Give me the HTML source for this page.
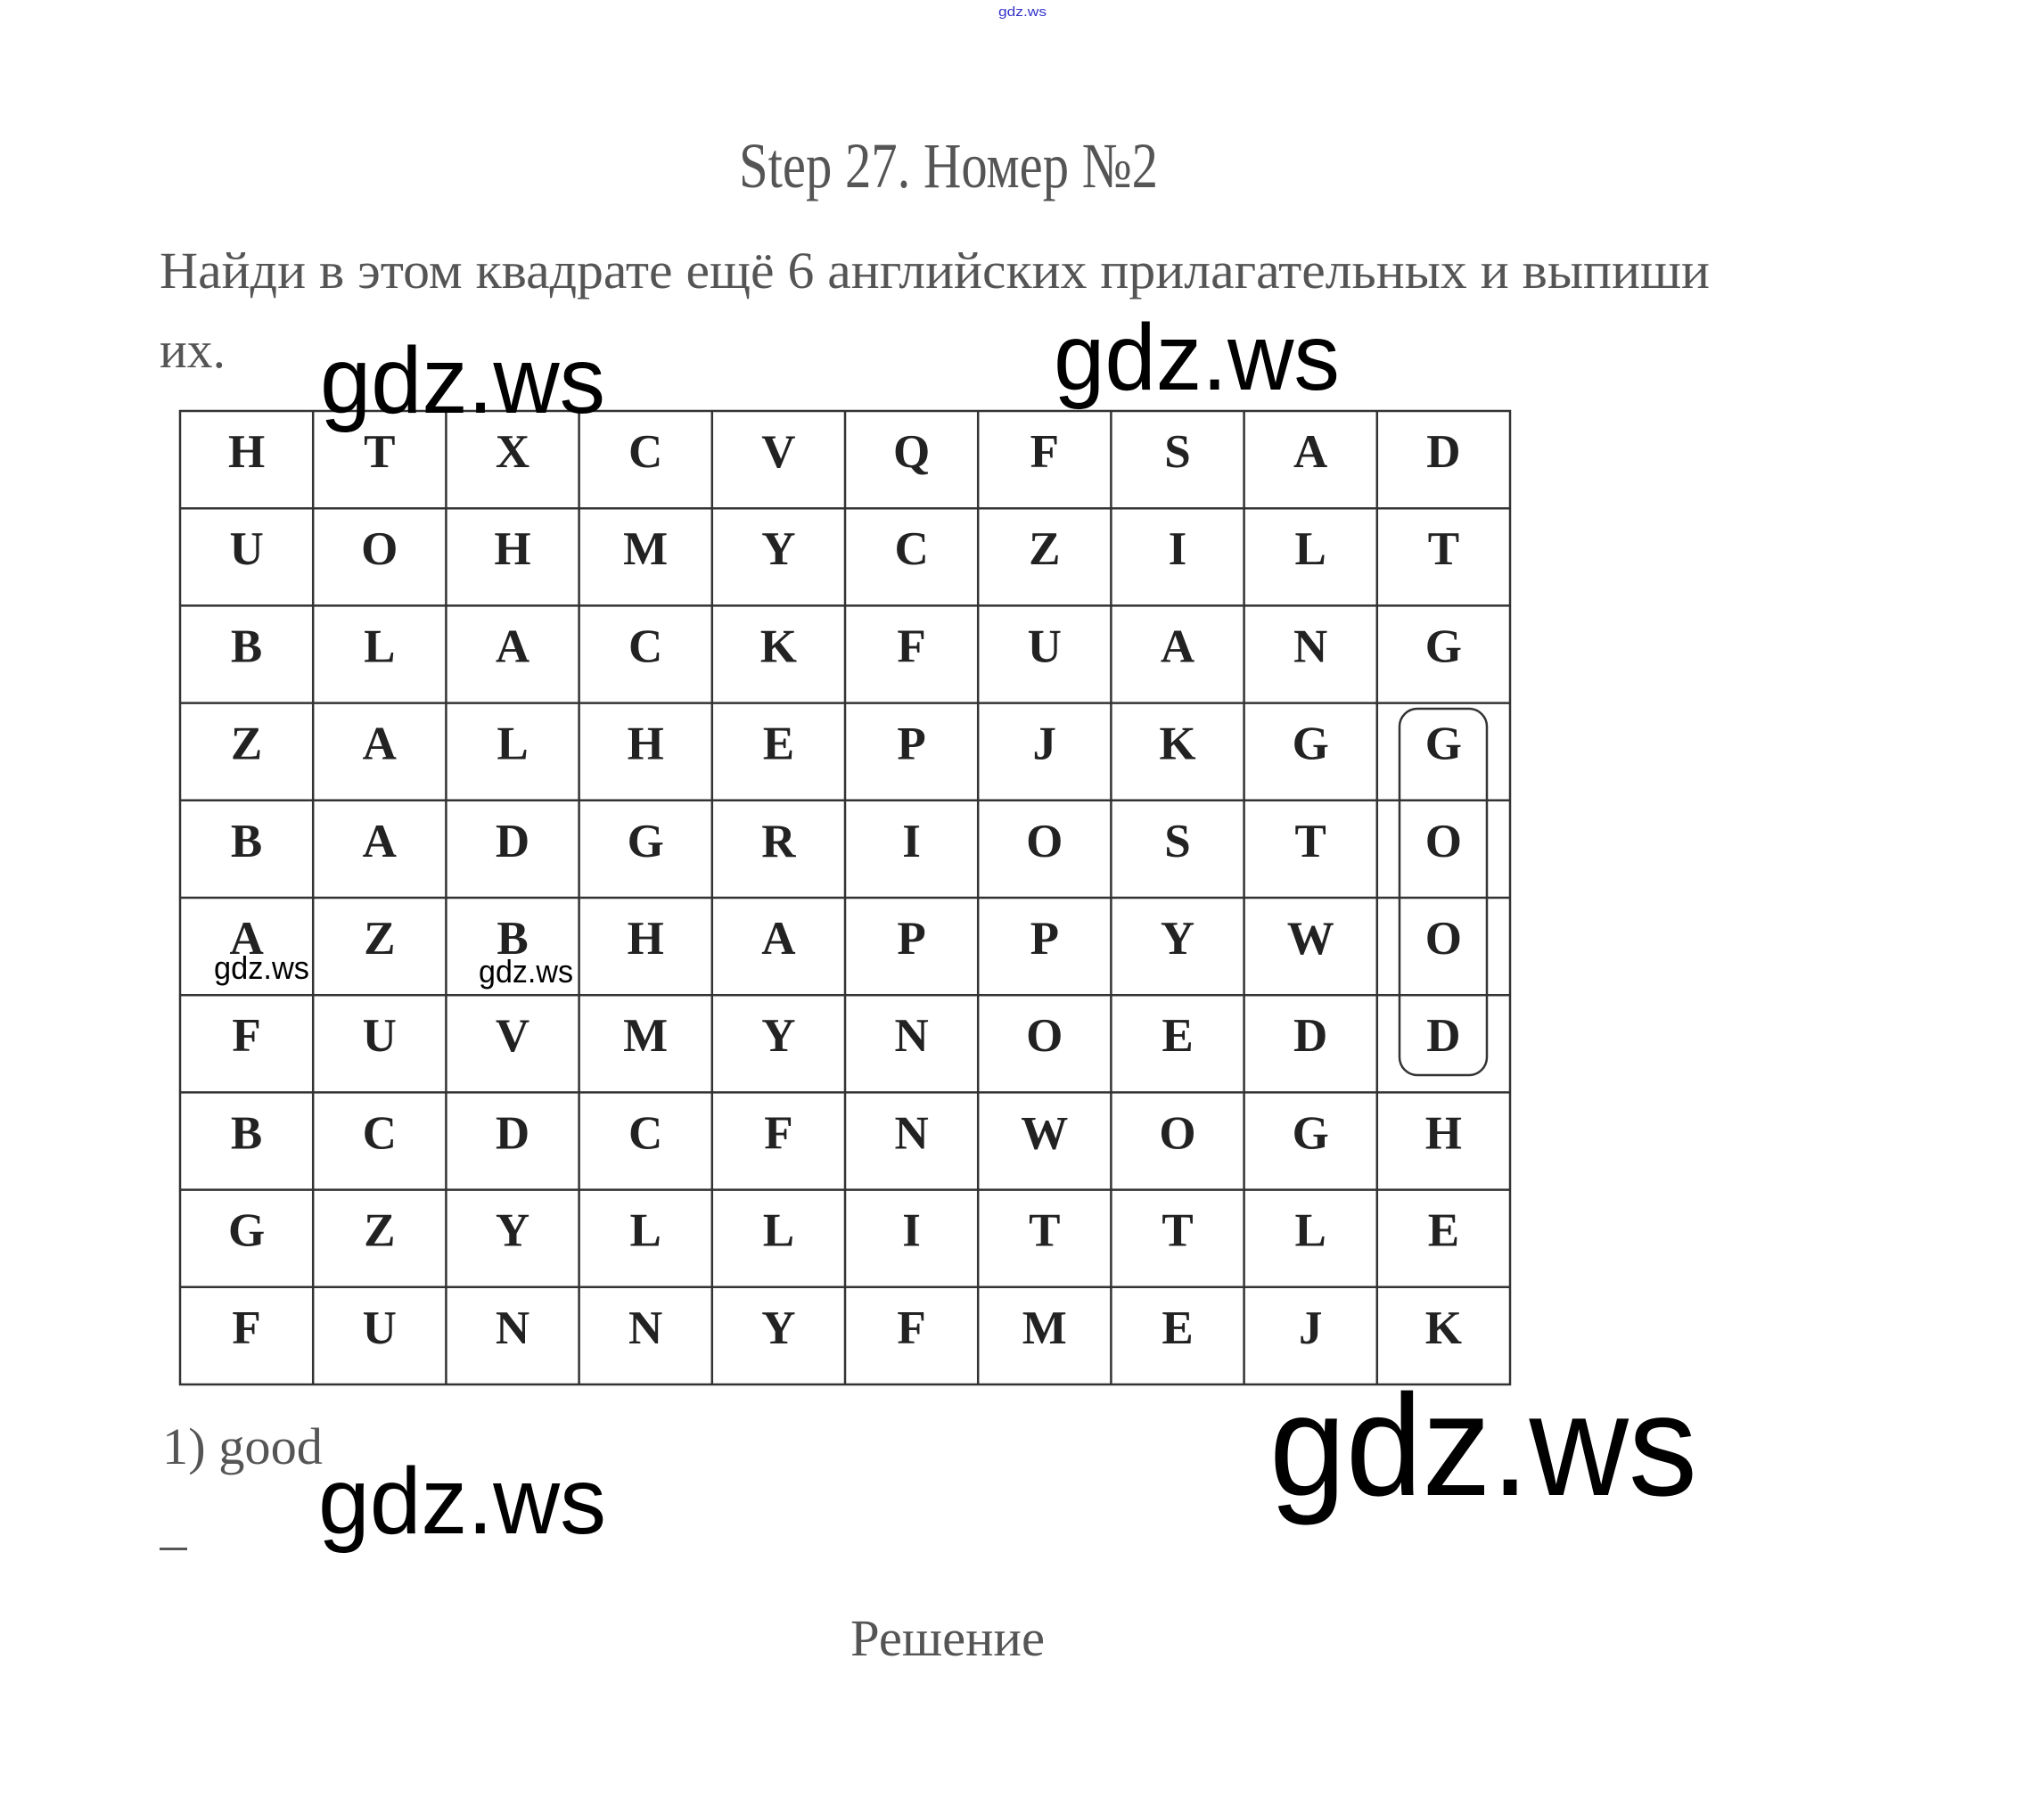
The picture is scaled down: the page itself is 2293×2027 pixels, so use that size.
<!DOCTYPE html>
<html><head><meta charset="utf-8"><style>html,body{margin:0;padding:0;background:#fff}svg{display:block}</style></head>
<body>
<svg width="2293" height="2027" viewBox="0 0 2293 2027" xmlns="http://www.w3.org/2000/svg">
<rect width="2293" height="2027" fill="#fff"/>
<text x="1120" y="18" font-family="Liberation Sans, sans-serif" font-size="15" fill="#3333cc" textLength="54" lengthAdjust="spacingAndGlyphs">gdz.ws</text>
<g font-family="Liberation Serif, serif" fill="#555">
<text x="829" y="210" font-size="72" textLength="470" lengthAdjust="spacingAndGlyphs">Step 27. Номер №2</text>
<text x="179" y="323" font-size="58" textLength="1739" lengthAdjust="spacingAndGlyphs">Найди в этом квадрате ещё 6 английских прилагательных и выпиши</text>
<text x="179" y="412" font-size="58" textLength="74" lengthAdjust="spacingAndGlyphs">их.</text>
<text x="182" y="1642" font-size="58" textLength="180" lengthAdjust="spacingAndGlyphs">1) good</text>
<text x="954" y="1857" font-size="58" textLength="218" lengthAdjust="spacingAndGlyphs">Решение</text>
</g>
<rect x="179" y="1736" width="31" height="3" fill="#555"/>
<g stroke="#333" stroke-width="2.5" fill="none">
<rect x="202" y="461" width="1492" height="1092"/>
<path d="M351.2 461V1553M500.4 461V1553M649.6 461V1553M798.8 461V1553M948 461V1553M1097.2 461V1553M1246.4 461V1553M1395.6 461V1553M1544.8 461V1553"/>
<path d="M202 570.2H1694M202 679.4H1694M202 788.6H1694M202 897.8H1694M202 1007H1694M202 1116.2H1694M202 1225.4H1694M202 1334.6H1694M202 1443.8H1694"/>
<rect x="1570" y="795" width="98" height="411" rx="20" ry="20"/>
</g>
<g font-family="Liberation Serif, serif" font-weight="bold" font-size="53" fill="#222" text-anchor="middle">
<text y="524"><tspan x="276.6">H</tspan><tspan x="425.8">T</tspan><tspan x="575">X</tspan><tspan x="724.2">C</tspan><tspan x="873.4">V</tspan><tspan x="1022.6">Q</tspan><tspan x="1171.8">F</tspan><tspan x="1321">S</tspan><tspan x="1470.2">A</tspan><tspan x="1619.4">D</tspan></text>
<text y="633.2"><tspan x="276.6">U</tspan><tspan x="425.8">O</tspan><tspan x="575">H</tspan><tspan x="724.2">M</tspan><tspan x="873.4">Y</tspan><tspan x="1022.6">C</tspan><tspan x="1171.8">Z</tspan><tspan x="1321">I</tspan><tspan x="1470.2">L</tspan><tspan x="1619.4">T</tspan></text>
<text y="742.4"><tspan x="276.6">B</tspan><tspan x="425.8">L</tspan><tspan x="575">A</tspan><tspan x="724.2">C</tspan><tspan x="873.4">K</tspan><tspan x="1022.6">F</tspan><tspan x="1171.8">U</tspan><tspan x="1321">A</tspan><tspan x="1470.2">N</tspan><tspan x="1619.4">G</tspan></text>
<text y="851.6"><tspan x="276.6">Z</tspan><tspan x="425.8">A</tspan><tspan x="575">L</tspan><tspan x="724.2">H</tspan><tspan x="873.4">E</tspan><tspan x="1022.6">P</tspan><tspan x="1171.8">J</tspan><tspan x="1321">K</tspan><tspan x="1470.2">G</tspan><tspan x="1619.4">G</tspan></text>
<text y="960.8"><tspan x="276.6">B</tspan><tspan x="425.8">A</tspan><tspan x="575">D</tspan><tspan x="724.2">G</tspan><tspan x="873.4">R</tspan><tspan x="1022.6">I</tspan><tspan x="1171.8">O</tspan><tspan x="1321">S</tspan><tspan x="1470.2">T</tspan><tspan x="1619.4">O</tspan></text>
<text y="1070"><tspan x="276.6">A</tspan><tspan x="425.8">Z</tspan><tspan x="575">B</tspan><tspan x="724.2">H</tspan><tspan x="873.4">A</tspan><tspan x="1022.6">P</tspan><tspan x="1171.8">P</tspan><tspan x="1321">Y</tspan><tspan x="1470.2">W</tspan><tspan x="1619.4">O</tspan></text>
<text y="1179.2"><tspan x="276.6">F</tspan><tspan x="425.8">U</tspan><tspan x="575">V</tspan><tspan x="724.2">M</tspan><tspan x="873.4">Y</tspan><tspan x="1022.6">N</tspan><tspan x="1171.8">O</tspan><tspan x="1321">E</tspan><tspan x="1470.2">D</tspan><tspan x="1619.4">D</tspan></text>
<text y="1288.4"><tspan x="276.6">B</tspan><tspan x="425.8">C</tspan><tspan x="575">D</tspan><tspan x="724.2">C</tspan><tspan x="873.4">F</tspan><tspan x="1022.6">N</tspan><tspan x="1171.8">W</tspan><tspan x="1321">O</tspan><tspan x="1470.2">G</tspan><tspan x="1619.4">H</tspan></text>
<text y="1397.6"><tspan x="276.6">G</tspan><tspan x="425.8">Z</tspan><tspan x="575">Y</tspan><tspan x="724.2">L</tspan><tspan x="873.4">L</tspan><tspan x="1022.6">I</tspan><tspan x="1171.8">T</tspan><tspan x="1321">T</tspan><tspan x="1470.2">L</tspan><tspan x="1619.4">E</tspan></text>
<text y="1506.8"><tspan x="276.6">F</tspan><tspan x="425.8">U</tspan><tspan x="575">N</tspan><tspan x="724.2">N</tspan><tspan x="873.4">Y</tspan><tspan x="1022.6">F</tspan><tspan x="1171.8">M</tspan><tspan x="1321">E</tspan><tspan x="1470.2">J</tspan><tspan x="1619.4">K</tspan></text>
</g>
<g font-family="Liberation Sans, sans-serif" fill="#000">
<text x="359" y="463" font-size="106" textLength="320" lengthAdjust="spacingAndGlyphs">gdz.ws</text>
<text x="1182" y="437" font-size="106" textLength="321" lengthAdjust="spacingAndGlyphs">gdz.ws</text>
<text x="357" y="1720" font-size="106" textLength="323" lengthAdjust="spacingAndGlyphs">gdz.ws</text>
<text x="1424" y="1677" font-size="162" textLength="480" lengthAdjust="spacingAndGlyphs">gdz.ws</text>
<text x="240" y="1098" font-size="36" textLength="107" lengthAdjust="spacingAndGlyphs">gdz.ws</text>
<text x="537" y="1102" font-size="36" textLength="106" lengthAdjust="spacingAndGlyphs">gdz.ws</text>
</g>
</svg>
</body></html>
